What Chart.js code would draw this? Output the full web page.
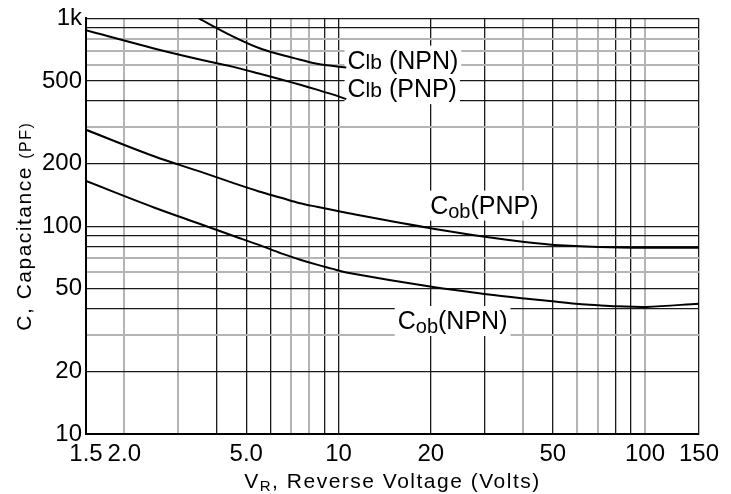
<!DOCTYPE html>
<html>
<head>
<meta charset="utf-8">
<script src="https://cdn.jsdelivr.net/npm/chart.js@4"></script>
<style>
  html, body { margin: 0; padding: 0; background: #fff; }
  canvas { display: block; }
</style>
</head>
<body>
<canvas id="capChart" width="731" height="494"></canvas>
<script>
// reverse voltage (V) and capacitance (pF)
const vClbNpn = [3.5, 4.5, 5.5, 6.5, 7.5, 8.5, 9.5, 10.6];
const clbNpn = [1000, 822, 720, 668, 633, 605, 592, 580];

const vClbPnp = [1.5, 2.5, 3.5, 4.5, 5.5, 6.5, 7.5, 8.5, 9.5, 10.6];
const clbPnp = [877, 717, 636, 586, 543, 508, 479, 454, 432, 409];

const vCobPnp = [1.5, 2.5, 3.5, 4.5, 5.5, 6.5, 7.5, 8.5, 9.5, 10.6, 20.6, 30.4, 40.5, 50.8, 70.8, 101, 150];
const cobPnp = [291, 217, 184, 162, 147, 137, 129, 124, 120, 116, 97, 88.7, 84, 81.3, 79.5, 78.8, 78.8];

const vCobNpn = [1.5, 2.5, 3.5, 4.5, 5.5, 6.5, 7.5, 8.5, 9.5, 10.6, 20.6, 30.4, 40.5, 50.8, 60.8, 70.8, 80.9, 101, 150];
const cobNpn = [165, 123, 103, 90.2, 81.3, 74, 69, 65.3, 62.5, 59.9, 50.8, 47.1, 44.9, 43.4, 42.2, 41.6, 41.2, 40.9, 42.4];

// grid lines and labelled ticks
const xGrid = [1.5, 2, 3, 4, 5, 6, 7, 8, 9, 10, 20, 30, 40, 50, 60, 70, 80, 90, 100, 150];
const xTickValues = [1.5, 2, 5, 10, 20, 50, 100, 150];
const xTickLabels = ['1.5', '2.0', '5.0', '10', '20', '50', '100', '150'];
const xGrayLines = [2, 3, 7, 8, 40, 60, 70, 100];

const yGrid = [10, 20, 30, 40, 50, 60, 70, 80, 90, 100, 200, 300, 400, 500, 600, 700, 800, 900, 1000];
const yTickValues = [10, 20, 50, 100, 200, 500, 1000];
const yTickLabels = ['10', '20', '50', '100', '200', '500', '1k'];
const yGrayLines = [30, 60, 70, 300, 600, 700, 800];

const FONT = '"Liberation Sans", Arial, sans-serif';

// curve names, anchored at a (volts, pF) spot
const curveLabels = [
  { v: 10.7, c: 573, parts: [['C', 25, 0], ['lb', 21, 0], [' (NPN)', 25, 0]] },
  { v: 10.7, c: 418, parts: [['C', 25, 0], ['lb', 21, 0], [' (PNP)', 25, 0]] },
  { v: 19.9, c: 115, parts: [['C', 25, 0], ['ob', 20, 4], ['(PNP)', 25, 0]] },
  { v: 15.6, c: 32, parts: [['C', 25, 0], ['ob', 20, 4], ['(NPN)', 25, 0]] }
];

function pts(xs, ys) {
  return xs.map((x, i) => ({ x: x, y: ys[i] }));
}

function curve(label, xs, ys) {
  return {
    label: label,
    data: pts(xs, ys),
    borderColor: '#000',
    borderWidth: 2,
    pointRadius: 0,
    fill: false,
    tension: 0.35
  };
}

function partsWidth(ctx, parts) {
  let w = 0;
  parts.forEach(p => {
    ctx.font = p[1] + 'px ' + FONT;
    w += ctx.measureText(p[0]).width;
  });
  return w;
}

function drawParts(ctx, x, y, parts, box) {
  const w = partsWidth(ctx, parts);
  if (box) {
    ctx.fillStyle = '#fff';
    ctx.fillRect(x - 3, y - 23, w + 6, 30);
  }
  ctx.fillStyle = '#000';
  let cx = x;
  parts.forEach(p => {
    ctx.font = p[1] + 'px ' + FONT;
    ctx.fillText(p[0], cx, y + p[2]);
    cx += ctx.measureText(p[0]).width;
  });
}

const labelPlugin = {
  id: 'labels',
  beforeDatasetsDraw(chart) {
    const ctx = chart.ctx;
    const xs = chart.scales.x, ys = chart.scales.y;
    ctx.save();
    ctx.textBaseline = 'alphabetic';
    curveLabels.forEach(l => {
      drawParts(ctx, xs.getPixelForValue(l.v), ys.getPixelForValue(l.c), l.parts, true);
    });
    ctx.restore();
  },
  afterDraw(chart) {
    const ctx = chart.ctx;
    const a = chart.chartArea;
    ctx.save();
    ctx.textBaseline = 'alphabetic';
    ctx.letterSpacing = '1.5px';

    // x title
    const xParts = [['V', 21, 0], ['R', 15, 3], [', Reverse Voltage (Volts)', 21, 0]];
    const xw = partsWidth(ctx, xParts);
    drawParts(ctx, (a.left + a.right) / 2 - xw / 2, 488, xParts, false);

    // y title
    const yParts = [['C, Capacitance ', 21, 0], ['(PF)', 16, 0]];
    const yw = partsWidth(ctx, yParts);
    ctx.translate(31, (a.top + a.bottom) / 2);
    ctx.rotate(-Math.PI / 2);
    drawParts(ctx, -yw / 2, 0, yParts, false);
    ctx.restore();
  }
};

const ctx = document.getElementById('capChart').getContext('2d');

const myChart = new Chart(ctx, {
  type: 'line',
  data: {
    datasets: [
      curve('Cib (NPN)', vClbNpn, clbNpn),
      curve('Cib (PNP)', vClbPnp, clbPnp),
      curve('Cob (PNP)', vCobPnp, cobPnp),
      curve('Cob (NPN)', vCobNpn, cobNpn)
    ]
  },
  options: {
    responsive: false,
    animation: false,
    devicePixelRatio: 1,
    layout: { padding: { top: 12, right: 32, left: 0, bottom: 0 } },
    plugins: {
      legend: { display: false },
      tooltip: { enabled: false }
    },
    scales: {
      x: {
        type: 'logarithmic',
        min: 1.5,
        max: 150,
        afterBuildTicks: s => { s.ticks = xGrid.map(v => ({ value: v })); },
        afterFit: s => { s.height = 60; },
        ticks: {
          autoSkip: false,
          maxRotation: 0,
          padding: 6,
          color: '#000',
          font: { family: FONT, size: 24 },
          callback: v => {
            const i = xTickValues.indexOf(v);
            return i < 0 ? '' : xTickLabels[i];
          }
        },
        grid: {
          drawTicks: false,
          color: c => xGrayLines.includes(c.tick.value) ? '#b4b4b4' : '#1a1a1a',
          lineWidth: c => xGrayLines.includes(c.tick.value) ? 2 : 1.3
        },
        border: { color: '#000', width: 2 }
      },
      y: {
        type: 'logarithmic',
        min: 10,
        max: 1000,
        afterBuildTicks: s => { s.ticks = yGrid.map(v => ({ value: v })); },
        afterFit: s => { s.width = 86; },
        ticks: {
          autoSkip: false,
          padding: 4,
          color: '#000',
          font: { family: FONT, size: 24 },
          callback: v => {
            const i = yTickValues.indexOf(v);
            return i < 0 ? '' : yTickLabels[i];
          }
        },
        grid: {
          drawTicks: false,
          color: c => yGrayLines.includes(c.tick.value) ? '#b4b4b4' : '#1a1a1a',
          lineWidth: c => yGrayLines.includes(c.tick.value) ? 2 : 1.3
        },
        border: { color: '#000', width: 2 }
      }
    }
  },
  plugins: [labelPlugin]
});
</script>
</body>
</html>
